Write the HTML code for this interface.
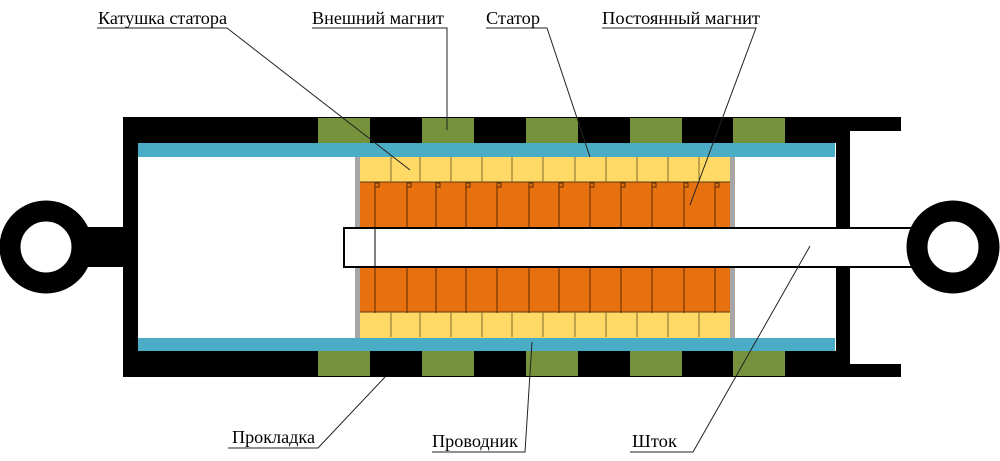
<!DOCTYPE html>
<html><head><meta charset="utf-8"><style>html,body{margin:0;padding:0;background:#fff}svg{display:block}</style></head>
<body>
<svg width="1000" height="461" viewBox="0 0 1000 461" xmlns="http://www.w3.org/2000/svg">
<!-- housing -->
<rect x="123" y="117" width="713" height="26" fill="#000"/>
<rect x="123" y="351" width="713" height="26" fill="#000"/>
<rect x="123" y="117" width="15" height="260" fill="#000"/>
<rect x="836" y="117" width="14" height="260" fill="#000"/>
<rect x="836" y="117" width="65" height="14" fill="#000"/>
<rect x="836" y="364" width="65" height="13" fill="#000"/>
<!-- greens -->
<g fill="#76923c">
<rect x="318" y="118" width="52" height="25"/><rect x="422" y="118" width="52" height="25"/><rect x="526" y="118" width="52" height="25"/><rect x="630" y="118" width="52" height="25"/><rect x="733" y="118" width="52" height="25"/>
<rect x="318" y="351" width="52" height="25"/><rect x="422" y="351" width="52" height="25"/><rect x="526" y="351" width="52" height="25"/><rect x="630" y="351" width="52" height="25"/><rect x="733" y="351" width="52" height="25"/>
</g>
<!-- blue -->
<rect x="138" y="143" width="697" height="14" fill="#4bacc6"/>
<rect x="138" y="338" width="697" height="13" fill="#4bacc6"/>
<!-- left eye -->
<rect x="80" y="227" width="45" height="40" fill="#000"/>
<circle cx="46" cy="247" r="36" fill="none" stroke="#000" stroke-width="21"/>
<!-- gray -->
<rect x="355" y="157" width="5" height="181" fill="#a6a6a6"/>
<rect x="730" y="157" width="5" height="181" fill="#a6a6a6"/>
<!-- yellow -->
<rect x="360" y="157" width="370" height="25" fill="#ffd966"/>
<rect x="360" y="312" width="370" height="26" fill="#ffd966"/>
<!-- orange -->
<rect x="360" y="182" width="370" height="46" fill="#e8710f"/>
<rect x="360" y="267" width="370" height="45" fill="#e8710f"/>
<g stroke="#5a3a10" stroke-width="1">
<line x1="360" y1="182" x2="730" y2="182"/><line x1="360" y1="312" x2="730" y2="312"/>
</g>
<g stroke="#7f6a30" stroke-width="1" id="yl">
<line x1="391" y1="157" x2="391" y2="182"/><line x1="420" y1="157" x2="420" y2="182"/><line x1="451" y1="157" x2="451" y2="182"/><line x1="482" y1="157" x2="482" y2="182"/><line x1="512" y1="157" x2="512" y2="182"/><line x1="543" y1="157" x2="543" y2="182"/><line x1="575" y1="157" x2="575" y2="182"/><line x1="606" y1="157" x2="606" y2="182"/><line x1="637" y1="157" x2="637" y2="182"/><line x1="668" y1="157" x2="668" y2="182"/><line x1="699" y1="157" x2="699" y2="182"/>
</g>
<use href="#yl" transform="translate(0,155)"/>
<g stroke="#5a2a05" stroke-width="1" id="ol" fill="none">
<line x1="375" y1="182" x2="375" y2="228"/><line x1="407" y1="182" x2="407" y2="228"/><line x1="436" y1="182" x2="436" y2="228"/><line x1="466" y1="182" x2="466" y2="228"/><line x1="497" y1="182" x2="497" y2="228"/><line x1="529" y1="182" x2="529" y2="228"/><line x1="559" y1="182" x2="559" y2="228"/><line x1="590" y1="182" x2="590" y2="228"/><line x1="621" y1="182" x2="621" y2="228"/><line x1="652" y1="182" x2="652" y2="228"/><line x1="684" y1="182" x2="684" y2="228"/><line x1="715" y1="182" x2="715" y2="228"/>
</g>
<g stroke="#5a2a05" stroke-width="1" fill="none">
<rect x="375" y="183" width="4" height="4"/><rect x="407" y="183" width="4" height="4"/><rect x="436" y="183" width="4" height="4"/><rect x="466" y="183" width="4" height="4"/><rect x="497" y="183" width="4" height="4"/><rect x="529" y="183" width="4" height="4"/><rect x="559" y="183" width="4" height="4"/><rect x="590" y="183" width="4" height="4"/><rect x="621" y="183" width="4" height="4"/><rect x="652" y="183" width="4" height="4"/><rect x="684" y="183" width="4" height="4"/><rect x="715" y="183" width="4" height="4"/>
</g>
<use href="#ol" transform="translate(0,85)"/>
<!-- rod -->
<rect x="344" y="228" width="590" height="39" fill="#fff" stroke="#000" stroke-width="2"/>
<line x1="375" y1="228" x2="375" y2="267" stroke="#000" stroke-width="1"/>
<!-- right eye -->
<circle cx="953" cy="247" r="36" fill="#fff" stroke="#000" stroke-width="21"/>
<!-- leaders -->
<g stroke="#222" stroke-width="1" fill="none">
<polyline points="97,28 227,28 410,170"/>
<polyline points="312,28 447,28 447,130"/>
<polyline points="486,28 547,28 590,157"/>
<polyline points="602,28 756,28 690,205"/>
<polyline points="228,448 318,448 385,377"/>
<polyline points="432,452 525,452 532,342"/>
<polyline points="630,452 693,452 810,246"/>
</g>
<g font-family="Liberation Serif, serif" font-size="18" fill="#000">
<text x="98" y="24" textLength="129" lengthAdjust="spacingAndGlyphs">Катушка статора</text>
<text x="312" y="24" textLength="132" lengthAdjust="spacingAndGlyphs">Внешний магнит</text>
<text x="486" y="24" textLength="54" lengthAdjust="spacingAndGlyphs">Статор</text>
<text x="602" y="24" textLength="158" lengthAdjust="spacingAndGlyphs">Постоянный магнит</text>
<text x="232" y="443" textLength="83" lengthAdjust="spacingAndGlyphs">Прокладка</text>
<text x="432" y="447" textLength="86" lengthAdjust="spacingAndGlyphs">Проводник</text>
<text x="632" y="447" textLength="45" lengthAdjust="spacingAndGlyphs">Шток</text>
</g>
</svg>
</body></html>
